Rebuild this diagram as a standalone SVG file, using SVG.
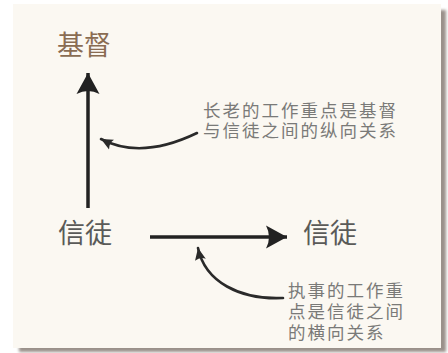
<svg xmlns="http://www.w3.org/2000/svg" width="448" height="353" viewBox="0 0 448 353">
<style>
.big{font-family:"Noto Sans CJK SC","Noto Sans CJK TC",sans-serif;font-size:27px;fill:#5a5a58}
.note{font-family:"Liberation Sans","Noto Sans CJK SC","Noto Sans CJK TC",sans-serif;font-size:17.5px;letter-spacing:2px;fill:#7a7a78}
.main{fill:none;stroke:#222;stroke-width:3.5}
.curve{fill:none;stroke:#2a2a2a;stroke-width:2.6;stroke-linecap:round}
</style>
<defs>
<marker id="big" markerUnits="userSpaceOnUse" viewBox="0 -12 22 24" refX="21" refY="0" markerWidth="22" markerHeight="24" orient="auto">
<path d="M21,0 L0,-11.5 Q6,0 0,11.5 Z" fill="#222"/>
</marker>
<marker id="small" markerUnits="userSpaceOnUse" viewBox="0 -6 13 12" refX="12" refY="0" markerWidth="13" markerHeight="12" orient="auto">
<path d="M12,0 L0,-5.5 Q3,0 0,5.5 Z" fill="#2a2a2a"/>
</marker>
<filter id="sh" x="-5%" y="-5%" width="115%" height="115%">
<feGaussianBlur stdDeviation="1.5"/>
</filter>
</defs>
<rect width="448" height="353" fill="#ffffff"/>
<rect x="19" y="10" width="427" height="342" fill="#9a918a" filter="url(#sh)"/>
<rect x="13" y="4" width="428" height="344" fill="#fbf8f2"/>

<g id="connectors">
<path class="main" d="M88,208 L88,73" marker-end="url(#big)"/>
<path class="main" d="M150,237 L287,237" marker-end="url(#big)"/>
<path class="curve" d="M197,133 Q141,160 101,139" marker-end="url(#small)"/>
<path class="curve" d="M283,298 C240,300 205,282 198,248" marker-end="url(#small)"/>
</g>

<g id="node-jidu"><text class="big" x="57" y="55" style="fill:#8a6c52">基督</text></g>
<g id="node-xintu-left"><text class="big" x="58" y="243">信徒</text></g>
<g id="node-xintu-right"><text class="big" x="303" y="243">信徒</text></g>
<g id="note-elder">
<text class="note" x="203" y="117">长老的工作重点是基督</text>
<text class="note" x="203" y="137">与信徒之间的纵向关系</text>
</g>
<g id="note-deacon">
<text class="note" x="288" y="297">执事的工作重</text>
<text class="note" x="288" y="318">点是信徒之间</text>
<text class="note" x="288" y="339">的横向关系</text>
</g>
</svg>
